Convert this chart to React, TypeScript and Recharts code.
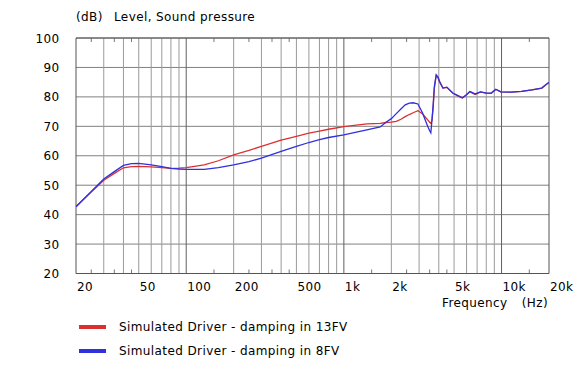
import React from 'react';
import { LineChart, Line, XAxis, YAxis, CartesianGrid, ReferenceLine, Legend, Label } from 'recharts';

const freq = [20, 25, 30, 35, 40, 45, 50, 60, 70, 80, 90, 100, 130, 160, 200, 250, 300, 400, 500, 600, 700, 800, 1000, 1200, 1400, 1700, 1850, 2000, 2150, 2300, 2450, 2600, 2750, 2950, 3150, 3300, 3400, 3500, 3560, 3620, 3680, 3750, 3850, 3950, 4050, 4250, 4500, 4900, 5300, 5650, 6000, 6300, 6800, 7350, 8000, 8600, 9200, 9900, 11500, 13400, 15600, 18000, 19000, 20000];
const level13FV = [42.7, 47.7, 51.7, 54.0, 55.9, 56.3, 56.4, 56.2, 56.0, 55.7, 55.8, 56.0, 56.9, 58.3, 60.3, 61.8, 63.2, 65.3, 66.6, 67.7, 68.4, 69.0, 69.9, 70.4, 70.8, 71.0, 71.3, 71.4, 71.7, 72.4, 73.3, 74.0, 74.6, 75.3, 74.3, 73.0, 72.2, 71.4, 71.0, 72.0, 76.0, 83.0, 87.2, 86.5, 85.0, 83.0, 83.2, 81.3, 80.2, 79.6, 80.7, 81.8, 80.8, 81.7, 81.3, 81.2, 82.5, 81.7, 81.6, 81.9, 82.4, 83.0, 84.0, 85.0];
const level8FV = [42.7, 47.9, 52.1, 54.6, 56.7, 57.3, 57.4, 56.9, 56.3, 55.7, 55.5, 55.4, 55.4, 56.0, 56.9, 58.0, 59.2, 61.5, 63.2, 64.5, 65.5, 66.2, 67.1, 68.0, 68.8, 69.8, 71.4, 72.6, 74.3, 75.9, 77.3, 77.9, 78.0, 77.6, 74.6, 71.8, 70.0, 68.5, 67.8, 72.0, 77.0, 83.6, 87.5, 86.8, 85.2, 83.0, 83.3, 81.3, 80.4, 79.7, 80.7, 81.8, 81.0, 81.7, 81.3, 81.3, 82.6, 81.7, 81.6, 81.9, 82.4, 83.0, 84.0, 84.9];

const xTicks = [20, 50, 100, 200, 500, 1000, 2000, 5000, 10000, 20000];
const xTickLabels = ['20', '50', '100', '200', '500', '1k', '2k', '5k', '10k', '20k'];
const yTicks = [20, 30, 40, 50, 60, 70, 80, 90, 100];
const gridMinor = [30, 40, 50, 60, 70, 80, 90, 200, 300, 400, 500, 600, 700, 800, 900, 2000, 3000, 4000, 5000, 6000, 7000, 8000, 9000];
const gridMajor = [100, 1000, 10000];
const minorTicks = [25, 35, 45, 150, 250, 350, 450, 1500, 2500, 3500, 4500, 15000];

const seriesNames = ['Simulated Driver - damping in 13FV', 'Simulated Driver - damping in 8FV'];

const RED = '#dc3030';
const BLUE = '#3030dc';
const FONT = '"DejaVu Sans", Verdana, sans-serif';

const data = freq.map((f, i) => ({ freq: f, a: level13FV[i], b: level8FV[i] }));

const textStyle = { fontFamily: FONT, fontSize: 12, letterSpacing: 0.4, fill: '#000' };

const XTick = (props: any) => {
  const { x, y, payload } = props;
  const idx = xTicks.indexOf(payload.value);
  return (
    <text x={x + 1} y={y + 17.5} textAnchor="start" style={textStyle}>
      {idx >= 0 ? xTickLabels[idx] : payload.value}
    </text>
  );
};

const YTick = (props: any) => {
  const { y, payload } = props;
  return (
    <text x={59.5} y={y + 4.5} textAnchor="end" style={textStyle}>
      {payload.value}
    </text>
  );
};

const LegendContent = (props: any) => {
  const { payload } = props;
  return (
    <div style={{ position: 'relative', width: 578, height: 390 }}>
      {(payload || []).map((p: any, i: number) => (
        <React.Fragment key={i}>
          <div style={{ position: 'absolute', left: 79, top: 327.3 + i * 24 - 2, width: 27, height: 4, background: p.color }} />
          <div style={{ position: 'absolute', left: 119, top: 320 + i * 24, lineHeight: '14px', fontFamily: FONT, fontSize: 12, letterSpacing: 0.4, color: '#000', whiteSpace: 'nowrap' }}>
            {p.value}
          </div>
        </React.Fragment>
      ))}
    </div>
  );
};

export default function App() {
  return (
    <div style={{ position: 'absolute', left: 0, top: 0, width: 578, height: 390, background: '#fff' }}>
      <LineChart width={578} height={390} data={data} margin={{ top: 38, right: 29, left: 0, bottom: 86.5 }}>
        <CartesianGrid vertical={false} stroke="#808080" strokeWidth={1} />
        {gridMinor.map((g) => (
          <ReferenceLine key={'gm' + g} x={g} stroke="#9a9a9a" strokeWidth={1} />
        ))}
        {gridMajor.map((g) => (
          <ReferenceLine key={'gM' + g} x={g} stroke="#606060" strokeWidth={1} />
        ))}
        {minorTicks.map((t) => (
          <ReferenceLine key={'tb' + t} segment={[{ x: t, y: 20 }, { x: t, y: 21.36 }]} stroke="#777" strokeWidth={1} />
        ))}
        {minorTicks.map((t) => (
          <ReferenceLine key={'tt' + t} segment={[{ x: t, y: 100 }, { x: t, y: 98.64 }]} stroke="#777" strokeWidth={1} />
        ))}
        <ReferenceLine y={100} stroke="#555" strokeWidth={1} />
        <ReferenceLine y={20} stroke="#555" strokeWidth={1} />
        <ReferenceLine x={20} stroke="#555" strokeWidth={1} />
        <ReferenceLine x={20000} stroke="#555" strokeWidth={1} />
        <XAxis
          dataKey="freq"
          type="number"
          scale="log"
          domain={[20, 20000]}
          ticks={xTicks}
          interval={0}
          allowDataOverflow
          axisLine={false}
          tickLine={false}
          tickSize={0}
          tickMargin={0}
          height={30}
          tick={<XTick />}
        >
          <Label
            content={() => (
              <g>
                <text x={442} y={306.7} textAnchor="start" style={textStyle}>Frequency</text>
                <text x={548} y={306.7} textAnchor="end" style={textStyle}>(Hz)</text>
              </g>
            )}
          />
        </XAxis>
        <YAxis
          type="number"
          domain={[20, 100]}
          ticks={yTicks}
          interval={0}
          width={76}
          axisLine={false}
          tickLine={false}
          tick={<YTick />}
        >
          <Label
            content={() => (
              <g>
                <text x={76} y={21} textAnchor="start" style={textStyle}>(dB)</text>
                <text x={114} y={21} textAnchor="start" style={textStyle}>Level, Sound pressure</text>
              </g>
            )}
          />
        </YAxis>
        <Line type="linear" dataKey="a" name={seriesNames[0]} stroke={RED} strokeWidth={1.3} dot={false} isAnimationActive={false} />
        <Line type="linear" dataKey="b" name={seriesNames[1]} stroke={BLUE} strokeWidth={1.3} dot={false} isAnimationActive={false} />
        <Legend
          layout="horizontal"
          verticalAlign="middle"
          align="center"
          content={<LegendContent />}
          wrapperStyle={{ position: 'absolute', left: 0, top: 0, width: 578, height: 390, pointerEvents: 'none' }}
        />
      </LineChart>
    </div>
  );
}
